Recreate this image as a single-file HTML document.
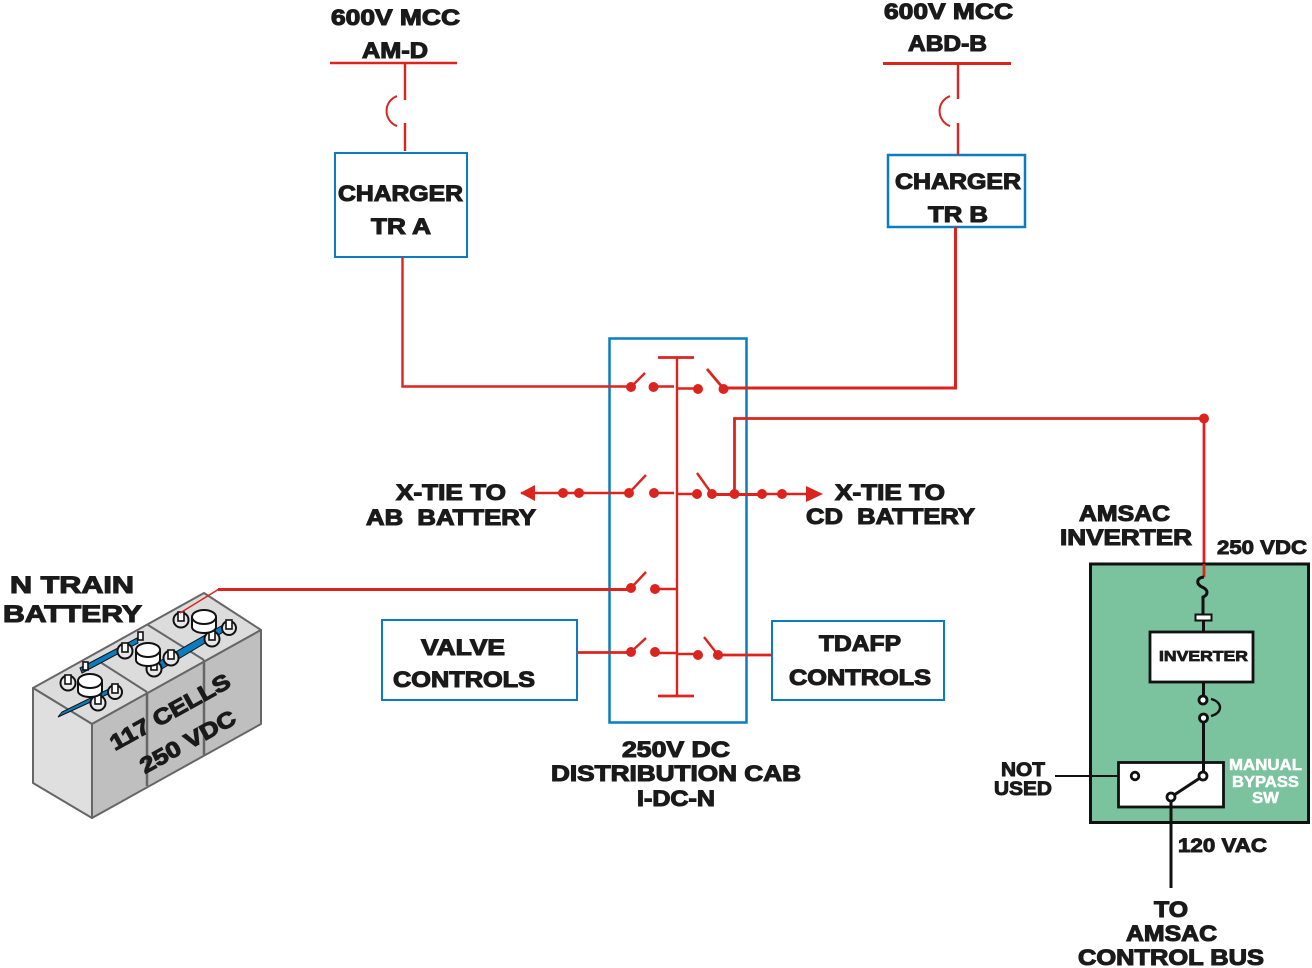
<!DOCTYPE html>
<html><head><meta charset="utf-8"><style>
html,body{margin:0;padding:0;background:#fff}
svg{display:block}
text{font-family:"Liberation Sans",sans-serif;font-weight:bold;fill:#1a1a1a;stroke:#1a1a1a;stroke-width:1.1;font-size:22px}
.s{font-size:19px;stroke-width:.9}
.w{fill:#fff;stroke:#fff;stroke-width:.5;font-size:16px}
.xs{font-size:15px;stroke-width:.8}
</style></head><body>
<svg width="1312" height="968" viewBox="0 0 1312 968" xmlns="http://www.w3.org/2000/svg">
<rect width="1312" height="968" fill="#fff"/>

<!-- battery -->
<g stroke="#666" stroke-width="2" stroke-linejoin="round">
<polygon points="33,688 204,593 261,630 92,724" fill="#dcdcdc"/>
<polygon points="33,688 92,724 92,818 33,783" fill="#dfdfdf"/>
<polygon points="92,724 261,630 261,724 92,818" fill="#bfbfbf"/>
<path d="M147,692V786M204,660V755" fill="none" stroke-width="2.5"/>
<path d="M147,692L100,662M204,660L148,625" fill="none"/>
</g>
<g stroke="#111" stroke-width="1">
<polygon points="58,717 62,712 117,685 119,689" fill="#0a7dc0"/>
<polygon points="80,668 137,638 138,643 82,673" fill="#0a7dc0"/>
<polygon points="158,662 223,625 225,631 160,670" fill="#0a7dc0"/>
</g>
<g fill="#e8e8e8" stroke="#111" stroke-width="2">
<circle cx="68" cy="683" r="7.500"/><circle cx="115" cy="692" r="7"/><circle cx="98" cy="703" r="7.500"/>
<circle cx="125" cy="651" r="7.500"/><circle cx="154" cy="669" r="7.500"/><circle cx="171" cy="658" r="7.500"/>
<circle cx="181" cy="620" r="7.500"/><circle cx="212" cy="639" r="7.500"/><circle cx="229" cy="628" r="7"/>
</g>
<g fill="#fff" stroke="#111" stroke-width="1.600">
<rect x="65" y="675" width="6" height="9"/><rect x="112" y="684" width="6" height="9"/><rect x="95" y="695" width="6" height="9"/>
<rect x="83" y="662" width="5" height="8"/><rect x="138" y="632" width="5" height="8"/>
<rect x="122" y="643" width="6" height="9"/><rect x="151" y="661" width="6" height="9"/><rect x="168" y="650" width="6" height="9"/>
<rect x="178" y="612" width="6" height="9"/><rect x="209" y="631" width="6" height="9"/><rect x="226" y="620" width="6" height="9"/>
</g>
<g fill="#fff" stroke="#111" stroke-width="2">
<path d="M78,682V691A12,6 0 0 0 102,691V682Z"/><ellipse cx="90" cy="681" rx="12" ry="7"/>
<path d="M136,651V660A12,6 0 0 0 160,660V651Z"/><ellipse cx="148" cy="650" rx="12" ry="7"/>
<path d="M192,618V627A12,6 0 0 0 216,627V618Z"/><ellipse cx="204" cy="617" rx="12" ry="7"/>
</g>
<path d="M219,589L180,613" fill="none" stroke="#dc241f" stroke-width="1.5"/>
<text transform="translate(115,751) rotate(-29)" textLength="134" lengthAdjust="spacingAndGlyphs">117 CELLS</text>
<text transform="translate(145,774) rotate(-29)" textLength="106" lengthAdjust="spacingAndGlyphs">250 VDC</text>

<!-- blue boxes -->
<g fill="none" stroke="#0a7dc0">
<rect x="609.500" y="338.500" width="137" height="384" stroke-width="2.500"/>
<rect x="335" y="153" width="132" height="104" stroke-width="2"/>
<rect x="888" y="155" width="137" height="72" stroke-width="2.500"/>
<rect x="382" y="620" width="195" height="80" stroke-width="2"/>
<rect x="772" y="621" width="172" height="79" stroke-width="2"/>
</g>

<!-- red wiring -->
<g fill="none" stroke="#dc241f" stroke-width="2.400">
<path d="M330,63H457M405,63V100M405,123V151"/>
<path d="M397,96A16,16 0 0 0 397,126" stroke-width="2"/>
<path d="M883,63.500H1011" stroke-width="3"/><path d="M958,63V99M958,123V155"/>
<path d="M950,96A16,16 0 0 0 950,126" stroke-width="2"/>
<path d="M402.500,257V386.500H631"/>
<path d="M955.500,227V388H724" stroke-width="3"/>
<path d="M658,357.500H694" stroke-width="2.800"/><path d="M658,696H694" stroke-width="2.800"/>
<path d="M677,357V696"/>
<path d="M653,386.500H674M677,388.500H698"/>
<path d="M631,387L645,373"/><path d="M723,388L707,369" stroke-width="2.800"/>
<path d="M521,493H629M653,493H674M677,494H697"/>
<path d="M629,493L646,475M712,494L697,473"/>
<path d="M712,494.500H762" stroke-width="3"/><path d="M762,494H808"/>
<path d="M734.500,494V418.500H1204M1204,418V576" stroke-width="2.800"/>
<path d="M218,589.500H631" stroke-width="3"/>
<path d="M631,588L646,572M655,589H677"/>
<path d="M578,652.500H631" stroke-width="2.800"/>
<path d="M631,652L646,638M655,653H677M677,654H698M718,655L704,637"/>
<path d="M718,655H772" stroke-width="2.800"/>
</g>
<g fill="#dc241f">
<circle cx="631" cy="387" r="5"/><circle cx="653.500" cy="387" r="5"/><circle cx="698" cy="389" r="5"/><circle cx="723.500" cy="389" r="5"/>
<circle cx="629" cy="493" r="5"/><circle cx="654" cy="493" r="5"/><circle cx="697" cy="494" r="5"/><circle cx="712" cy="494" r="5"/><circle cx="734.500" cy="494" r="5"/><circle cx="762" cy="494" r="5"/><circle cx="782" cy="494" r="5"/>
<circle cx="563" cy="493" r="5"/><circle cx="579" cy="493" r="5"/>
<circle cx="631" cy="588" r="5"/><circle cx="655" cy="589" r="5"/>
<circle cx="631" cy="652" r="5"/><circle cx="655" cy="652" r="5"/><circle cx="698" cy="655" r="5"/><circle cx="718" cy="655" r="5"/>
<circle cx="1204" cy="418.500" r="5"/>
<polygon points="806,486 823,494 806,502"/>
<polygon points="520,493 535,485 535,501"/>
</g>

<!-- inverter -->
<rect x="1090.500" y="564" width="218" height="258.500" fill="#7bc29e" stroke="#111" stroke-width="3"/>
<path d="M1204,564V577" stroke="#dc241f" stroke-width="2.800" fill="none"/>
<g fill="none" stroke="#111" stroke-width="3">
<path d="M1204,577C1196,578 1196,584 1202,587C1209,590 1208,595 1203,597V615"/>
<path d="M1203.500,621V632M1203.500,682V696M1203.500,722V772M1171,800V888"/>
<path d="M1211,699C1223,702 1223,713 1211,716" stroke-width="2.400"/>
<path d="M1055,776H1131" stroke-width="2"/>
</g>
<rect x="1195.500" y="614.500" width="16" height="6" fill="#fff" stroke="#111" stroke-width="2"/>
<rect x="1150" y="632" width="103" height="50" fill="#fff" stroke="#111" stroke-width="2.800"/>
<rect x="1118.500" y="762.500" width="105" height="44.500" fill="#fff" stroke="#111" stroke-width="2.800"/>
<path d="M1203,776L1171,797M1203.500,762V772M1171,807V800" stroke="#111" stroke-width="3" fill="none"/>
<g fill="#fff" stroke="#111" stroke-width="2.800">
<circle cx="1203" cy="700" r="4"/><circle cx="1203.500" cy="718" r="4"/>
<circle cx="1203" cy="776" r="4"/><circle cx="1171" cy="797" r="4"/><circle cx="1135" cy="776" r="3.800"/>
</g>

<!-- labels -->
<text x="331" y="25" textLength="129" lengthAdjust="spacingAndGlyphs">600V MCC</text>
<text x="362" y="58" textLength="66" lengthAdjust="spacingAndGlyphs">AM-D</text>
<text x="884" y="19" textLength="129" lengthAdjust="spacingAndGlyphs">600V MCC</text>
<text x="908" y="51" textLength="79" lengthAdjust="spacingAndGlyphs">ABD-B</text>
<text x="338" y="201" textLength="125" lengthAdjust="spacingAndGlyphs">CHARGER</text>
<text x="371" y="234" textLength="60" lengthAdjust="spacingAndGlyphs">TR A</text>
<text x="895" y="189" textLength="126" lengthAdjust="spacingAndGlyphs">CHARGER</text>
<text x="928" y="222" textLength="60" lengthAdjust="spacingAndGlyphs">TR B</text>
<text x="396" y="500" textLength="110" lengthAdjust="spacingAndGlyphs">X-TIE TO</text>
<text x="366" y="525" textLength="170" lengthAdjust="spacingAndGlyphs" xml:space="preserve">AB  BATTERY</text>
<text x="835" y="500" textLength="110" lengthAdjust="spacingAndGlyphs">X-TIE TO</text>
<text x="806" y="524" textLength="169" lengthAdjust="spacingAndGlyphs" xml:space="preserve">CD  BATTERY</text>
<text x="10" y="593" textLength="124" lengthAdjust="spacingAndGlyphs" style="font-size:24px">N TRAIN</text>
<text x="3" y="622" textLength="139" lengthAdjust="spacingAndGlyphs" style="font-size:24px">BATTERY</text>
<text x="421" y="655" textLength="84" lengthAdjust="spacingAndGlyphs">VALVE</text>
<text x="393" y="687" textLength="142" lengthAdjust="spacingAndGlyphs">CONTROLS</text>
<text x="819" y="651" textLength="82" lengthAdjust="spacingAndGlyphs">TDAFP</text>
<text x="789" y="685" textLength="142" lengthAdjust="spacingAndGlyphs">CONTROLS</text>
<text x="622" y="757" textLength="108" lengthAdjust="spacingAndGlyphs">250V DC</text>
<text x="551" y="781" textLength="250" lengthAdjust="spacingAndGlyphs">DISTRIBUTION CAB</text>
<text x="637" y="806" textLength="78" lengthAdjust="spacingAndGlyphs">I-DC-N</text>
<text x="1079" y="521" textLength="91" lengthAdjust="spacingAndGlyphs">AMSAC</text>
<text x="1060" y="545" textLength="132" lengthAdjust="spacingAndGlyphs">INVERTER</text>
<text class="s" x="1217" y="554" textLength="90" lengthAdjust="spacingAndGlyphs">250 VDC</text>
<text class="xs" x="1159" y="661" textLength="89" lengthAdjust="spacingAndGlyphs">INVERTER</text>
<text class="w" x="1229" y="770" textLength="73" lengthAdjust="spacingAndGlyphs">MANUAL</text>
<text class="w" x="1232" y="787" textLength="67" lengthAdjust="spacingAndGlyphs">BYPASS</text>
<text class="w" x="1252" y="803" textLength="27" lengthAdjust="spacingAndGlyphs">SW</text>
<text class="s" x="1001" y="776" textLength="44" lengthAdjust="spacingAndGlyphs">NOT</text>
<text class="s" x="994" y="795" textLength="58" lengthAdjust="spacingAndGlyphs">USED</text>
<text class="s" x="1178" y="852" textLength="89" lengthAdjust="spacingAndGlyphs">120 VAC</text>
<text x="1154" y="917" textLength="34" lengthAdjust="spacingAndGlyphs">TO</text>
<text x="1126" y="941" textLength="91" lengthAdjust="spacingAndGlyphs">AMSAC</text>
<text x="1078" y="965" textLength="186" lengthAdjust="spacingAndGlyphs">CONTROL BUS</text>
</svg>
</body></html>
